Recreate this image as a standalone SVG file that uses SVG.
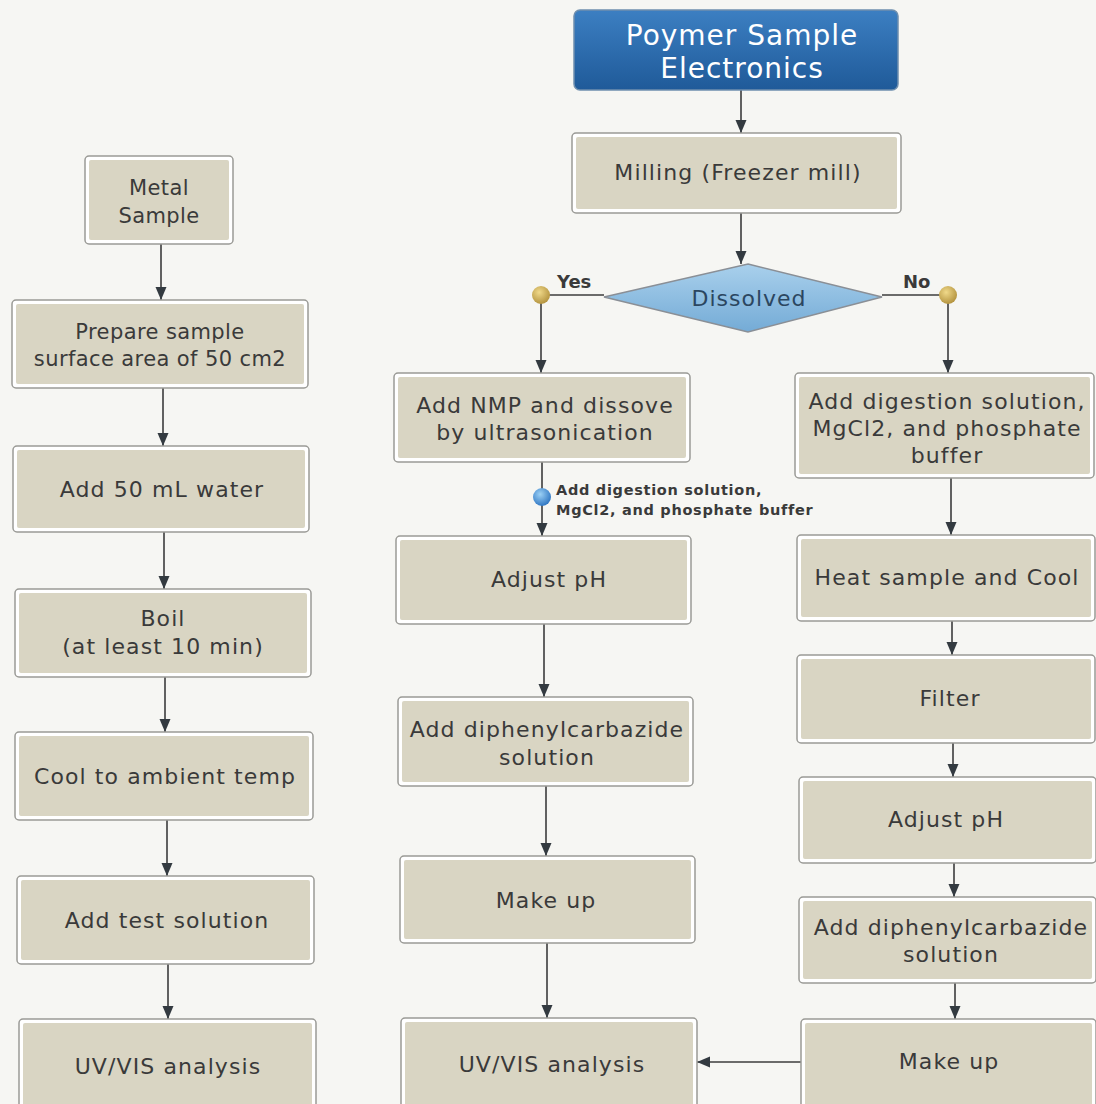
<svg xmlns="http://www.w3.org/2000/svg" width="1096" height="1104" viewBox="0 0 1096 1104">
<defs>
<style>
.box .o{fill:#ffffff;stroke:#9a9a96;stroke-width:1.5}
.box .i{fill:#d9d5c3}
.box text{font-family:"DejaVu Sans",Verdana,sans-serif;font-size:22px;letter-spacing:1.1px;fill:#3a3a3a;text-anchor:middle}
.box text.s{font-size:21px;letter-spacing:0.4px}
.conn line,.conn path{stroke:#3c3c3c;stroke-width:1.6;fill:none}
.arr{marker-end:url(#ah)}
.lbl{font-family:"DejaVu Sans",Verdana,sans-serif;font-weight:bold;fill:#3a3a3a}
</style>
<marker id="ah" markerUnits="userSpaceOnUse" markerWidth="14" markerHeight="14" viewBox="0 0 14 14" refX="13" refY="7" orient="auto">
<path d="M0,1.5 L13,7 L0,12.5 Z" fill="#333a40"/>
</marker>
<linearGradient id="blueg" x1="0" y1="0" x2="0" y2="1">
<stop offset="0" stop-color="#3c7fc2"/>
<stop offset="1" stop-color="#1f5a99"/>
</linearGradient>
<linearGradient id="diag" x1="0" y1="0" x2="0" y2="1">
<stop offset="0" stop-color="#a9d0ec"/>
<stop offset="1" stop-color="#74abd6"/>
</linearGradient>
<radialGradient id="gold" cx="0.4" cy="0.35" r="0.7">
<stop offset="0" stop-color="#f0d98a"/>
<stop offset="1" stop-color="#b08f3a"/>
</radialGradient>
<radialGradient id="bdot" cx="0.4" cy="0.35" r="0.7">
<stop offset="0" stop-color="#9bd0f5"/>
<stop offset="1" stop-color="#2a72c0"/>
</radialGradient>
</defs>
<rect x="0" y="0" width="1096" height="1104" fill="#f6f6f3"/>

<g class="conn">
<line class="arr" x1="161" y1="244" x2="161" y2="300"/>
<line class="arr" x1="163" y1="388" x2="163" y2="446"/>
<line class="arr" x1="164" y1="532" x2="164" y2="589"/>
<line class="arr" x1="165" y1="677" x2="165" y2="732"/>
<line class="arr" x1="167" y1="820" x2="167" y2="876"/>
<line class="arr" x1="168" y1="964" x2="168" y2="1019"/>
<line class="arr" x1="741" y1="90" x2="741" y2="133"/>
<line class="arr" x1="741" y1="213" x2="741" y2="264"/>
<line x1="604" y1="295" x2="541" y2="295"/>
<line class="arr" x1="541" y1="295" x2="541" y2="373"/>
<line x1="882" y1="295" x2="948" y2="295"/>
<line class="arr" x1="948" y1="295" x2="948" y2="373"/>
<line class="arr" x1="542" y1="462" x2="542" y2="536"/>
<line class="arr" x1="544" y1="624" x2="544" y2="697"/>
<line class="arr" x1="546" y1="786" x2="546" y2="856"/>
<line class="arr" x1="547" y1="943" x2="547" y2="1018"/>
<line class="arr" x1="951" y1="478" x2="951" y2="535"/>
<line class="arr" x1="952" y1="621" x2="952" y2="655"/>
<line class="arr" x1="953" y1="743" x2="953" y2="777"/>
<line class="arr" x1="954" y1="863" x2="954" y2="897"/>
<line class="arr" x1="955" y1="983" x2="955" y2="1019"/>
<line class="arr" x1="801" y1="1062" x2="697" y2="1062"/>
<circle cx="541" cy="295" r="9" fill="url(#gold)"/>
<circle cx="948" cy="295" r="9" fill="url(#gold)"/>
<circle cx="542" cy="497" r="9" fill="url(#bdot)"/>
<text class="lbl" x="557" y="288" font-size="18">Yes</text>
<text class="lbl" x="903" y="288" font-size="18">No</text>
<text class="lbl" x="556" y="495" font-size="14.5" letter-spacing="0.7">Add digestion solution,</text>
<text class="lbl" x="556" y="515" font-size="14.5" letter-spacing="0.7">MgCl2, and phosphate buffer</text>
</g>

<g id="poymer">
<rect x="574" y="10" width="324" height="80" rx="6" fill="url(#blueg)" stroke="#6f8fae" stroke-width="1.5"/>
<text x="742" y="45" font-family="DejaVu Sans,Verdana,sans-serif" font-size="28" letter-spacing="1" fill="#ffffff" text-anchor="middle">Poymer Sample</text>
<text x="742" y="78" font-family="DejaVu Sans,Verdana,sans-serif" font-size="28" letter-spacing="1" fill="#ffffff" text-anchor="middle">Electronics</text>
</g>

<g id="dissolved">
<polygon points="748,264 882,297 748,332 604,297" fill="url(#diag)" stroke="#8a8f96" stroke-width="1.5"/>
<text x="749" y="306" font-family="DejaVu Sans,Verdana,sans-serif" font-size="22" letter-spacing="1" fill="#2b4660" text-anchor="middle">Dissolved</text>
</g>

<g id="metal" class="box"><rect class="o" x="85" y="156" width="148" height="88" rx="4"/><rect class="i" x="89" y="160" width="140" height="80" rx="2"/><text class="s" x="159" y="195">Metal</text><text class="s" x="159" y="223">Sample</text></g>
<g id="prepare" class="box"><rect class="o" x="12" y="300" width="296" height="88" rx="4"/><rect class="i" x="16" y="304" width="288" height="80" rx="2"/><text class="s" x="160" y="339">Prepare sample</text><text class="s" x="160" y="366">surface area of 50 cm2</text></g>
<g id="water" class="box"><rect class="o" x="13" y="446" width="296" height="86" rx="4"/><rect class="i" x="17" y="450" width="288" height="78" rx="2"/><text x="162" y="497">Add 50 mL water</text></g>
<g id="boil" class="box"><rect class="o" x="15" y="589" width="296" height="88" rx="4"/><rect class="i" x="19" y="593" width="288" height="80" rx="2"/><text x="163" y="626">Boil</text><text x="163" y="654">(at least 10 min)</text></g>
<g id="cool" class="box"><rect class="o" x="15" y="732" width="298" height="88" rx="4"/><rect class="i" x="19" y="736" width="290" height="80" rx="2"/><text x="165" y="784">Cool to ambient temp</text></g>
<g id="testsol" class="box"><rect class="o" x="17" y="876" width="297" height="88" rx="4"/><rect class="i" x="21" y="880" width="289" height="80" rx="2"/><text x="167" y="928">Add test solution</text></g>
<g id="uvleft" class="box"><rect class="o" x="19" y="1019" width="297" height="92" rx="4"/><rect class="i" x="23" y="1023" width="289" height="84" rx="2"/><text x="168" y="1074">UV/VIS analysis</text></g>

<g id="milling" class="box"><rect class="o" x="572" y="133" width="329" height="80" rx="4"/><rect class="i" x="576" y="137" width="321" height="72" rx="2"/><text x="738" y="180">Milling (Freezer mill)</text></g>
<g id="nmp" class="box"><rect class="o" x="394" y="373" width="296" height="89" rx="4"/><rect class="i" x="398" y="377" width="288" height="81" rx="2"/><text x="545" y="413">Add NMP and dissove</text><text x="545" y="440">by ultrasonication</text></g>
<g id="phmid" class="box"><rect class="o" x="396" y="536" width="295" height="88" rx="4"/><rect class="i" x="400" y="540" width="287" height="80" rx="2"/><text x="549" y="587">Adjust pH</text></g>
<g id="diphmid" class="box"><rect class="o" x="398" y="697" width="295" height="89" rx="4"/><rect class="i" x="402" y="701" width="287" height="81" rx="2"/><text x="547" y="737">Add diphenylcarbazide</text><text x="547" y="765">solution</text></g>
<g id="makeupmid" class="box"><rect class="o" x="400" y="856" width="295" height="87" rx="4"/><rect class="i" x="404" y="860" width="287" height="79" rx="2"/><text x="546" y="908">Make up</text></g>
<g id="uvmid" class="box"><rect class="o" x="401" y="1018" width="296" height="93" rx="4"/><rect class="i" x="405" y="1022" width="288" height="85" rx="2"/><text x="552" y="1072">UV/VIS analysis</text></g>

<g id="digest" class="box"><rect class="o" x="795" y="373" width="299" height="105" rx="4"/><rect class="i" x="799" y="377" width="291" height="97" rx="2"/><text x="947" y="409">Add digestion solution,</text><text x="947" y="436">MgCl2, and phosphate</text><text x="947" y="463">buffer</text></g>
<g id="heat" class="box"><rect class="o" x="797" y="535" width="298" height="86" rx="4"/><rect class="i" x="801" y="539" width="290" height="78" rx="2"/><text x="947" y="585">Heat sample and Cool</text></g>
<g id="filter" class="box"><rect class="o" x="797" y="655" width="298" height="88" rx="4"/><rect class="i" x="801" y="659" width="290" height="80" rx="2"/><text x="950" y="706">Filter</text></g>
<g id="phright" class="box"><rect class="o" x="799" y="777" width="297" height="86" rx="4"/><rect class="i" x="803" y="781" width="289" height="78" rx="2"/><text x="946" y="827">Adjust pH</text></g>
<g id="diphright" class="box"><rect class="o" x="799" y="897" width="297" height="86" rx="4"/><rect class="i" x="803" y="901" width="289" height="78" rx="2"/><text x="951" y="935">Add diphenylcarbazide</text><text x="951" y="962">solution</text></g>
<g id="makeupright" class="box"><rect class="o" x="801" y="1019" width="295" height="92" rx="4"/><rect class="i" x="805" y="1023" width="287" height="84" rx="2"/><text x="949" y="1069">Make up</text></g>
</svg>
